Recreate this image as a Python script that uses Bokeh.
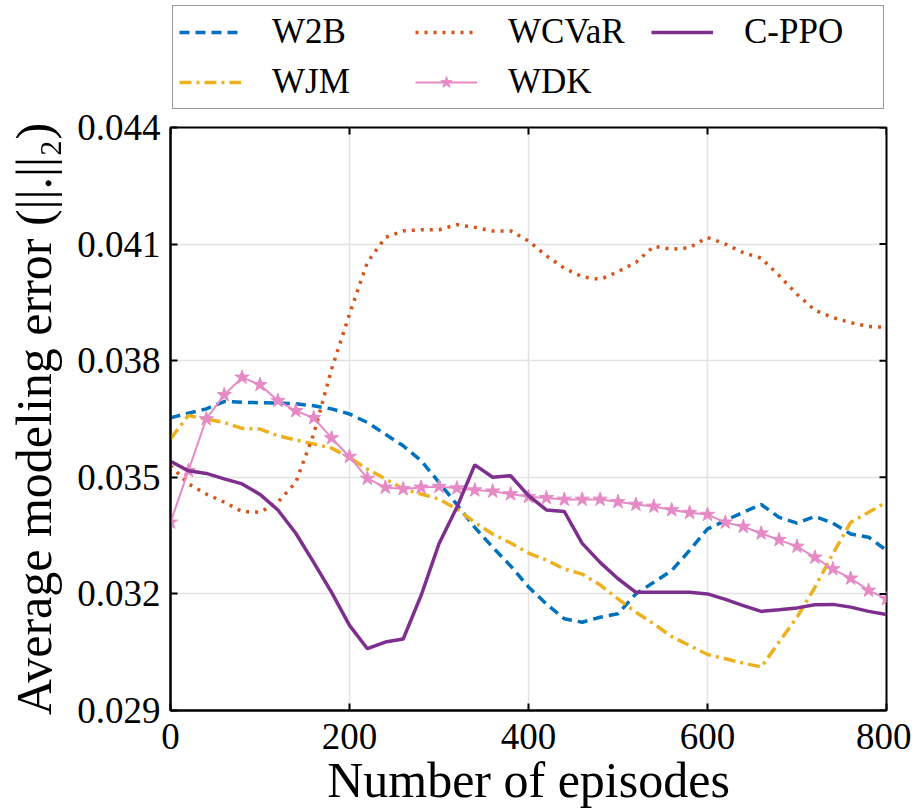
import math
from bokeh.plotting import figure
from bokeh.layouts import column
from bokeh.models import FixedTicker, Legend, LegendItem, Range1d
from bokeh.embed import file_html
from bokeh.resources import INLINE

episodes = list(range(0, 801, 20))

w2b = [0.03653, 0.03665, 0.03676, 0.03695, 0.03693, 0.03692, 0.03691, 0.03689, 0.03684, 0.03676,
       0.03663, 0.03641, 0.03611, 0.03581, 0.03543, 0.03487, 0.03430, 0.03371, 0.03320, 0.03272,
       0.03218, 0.03174, 0.03136, 0.03127, 0.03140, 0.03149, 0.03200, 0.03230, 0.03260, 0.03312,
       0.03367, 0.03389, 0.03410, 0.03430, 0.03397, 0.03382, 0.03399, 0.03382, 0.03354, 0.03346,
       0.03312]

wjm = [0.03599, 0.03659, 0.03650, 0.03641, 0.03626, 0.03624, 0.03607, 0.03596, 0.03586, 0.03575,
       0.03551, 0.03521, 0.03496, 0.03470, 0.03457, 0.03444, 0.03418, 0.03384, 0.03354, 0.03331,
       0.03305, 0.03287, 0.03264, 0.03251, 0.03223, 0.03187, 0.03153, 0.03123, 0.03090, 0.03067,
       0.03044, 0.03033, 0.03022, 0.03012, 0.03076, 0.03140, 0.03217, 0.03303, 0.03384, 0.03410,
       0.03436]

wcvar = [0.03530, 0.03483, 0.03457, 0.03436, 0.03412, 0.03410, 0.03436, 0.03487, 0.03611, 0.03778,
         0.03920, 0.04053, 0.04117, 0.04134, 0.04137, 0.04137, 0.04150, 0.04143, 0.04134, 0.04134,
         0.04108, 0.04070, 0.04038, 0.04016, 0.04009, 0.04029, 0.04053, 0.04094, 0.04087, 0.04091,
         0.04117, 0.04100, 0.04078, 0.04064, 0.04019, 0.03971, 0.03930, 0.03911, 0.03898, 0.03888,
         0.03886]

wdk = [0.03384, 0.03517, 0.03650, 0.03712, 0.03757, 0.03738, 0.03697, 0.03671, 0.03653, 0.03601,
       0.03553, 0.03497, 0.03474, 0.03470, 0.03474, 0.03476, 0.03472, 0.03467, 0.03464, 0.03457,
       0.03450, 0.03447, 0.03443, 0.03443, 0.03443, 0.03437, 0.03430, 0.03425, 0.03416, 0.03409,
       0.03404, 0.03384, 0.03373, 0.03356, 0.03339, 0.03322, 0.03294, 0.03264, 0.03240, 0.03209,
       0.03187]

cppo = [0.03541, 0.03517, 0.03510, 0.03496, 0.03483, 0.03456, 0.03416, 0.03356, 0.03281, 0.03204,
        0.03119, 0.03059, 0.03076, 0.03084, 0.03196, 0.03329, 0.03423, 0.03532, 0.03500, 0.03504,
        0.03453, 0.03416, 0.03412, 0.03330, 0.03281, 0.03239, 0.03204, 0.03204, 0.03204, 0.03204,
        0.03200, 0.03186, 0.03170, 0.03155, 0.03159, 0.03164, 0.03172, 0.03173, 0.03166, 0.03155,
        0.03147]

x_ticks = [0, 200, 400, 600, 800]
y_ticks = [0.029, 0.032, 0.035, 0.038, 0.041, 0.044]
y_tick_labels = ["0.029", "0.032", "0.035", "0.038", "0.041", "0.044"]
x_min, x_max = 0, 800
y_min, y_max = 0.029, 0.044

series = {"W2B": w2b, "WJM": wjm, "WCVaR": wcvar, "WDK": wdk, "C-PPO": cppo}

FONT = "Liberation Serif"
FRAME_W, FRAME_H = 716, 583
BORDER_L, BORDER_R = 170, 25

styles = {
    "W2B": dict(line_color="#0072BD", line_width=3.5, line_dash="10 6"),
    "WJM": dict(line_color="#EDB120", line_width=3.5, line_dash="12 5 3 5"),
    "WCVaR": dict(line_color="#D95319", line_width=3.5, line_dash="3 6"),
    "WDK": dict(line_color="#E68AC6", line_width=2),
    "C-PPO": dict(line_color="#7E2F8E", line_width=3.5),
}
star = dict(marker="star", size=15, fill_color="#E68AC6", line_color="#E68AC6")

# ---------------- main chart ----------------
p = figure(frame_width=FRAME_W, frame_height=FRAME_H, output_backend="svg", toolbar_location=None,
           x_range=Range1d(x_min, x_max), y_range=Range1d(y_min, y_max),
           min_border_left=BORDER_L, min_border_right=BORDER_R, min_border_top=18, min_border_bottom=0)
p.background_fill_color = "white"
p.border_fill_color = "white"
p.outline_line_color = "black"
p.outline_line_width = 2

for name in ["W2B", "WJM", "WCVaR", "WDK"]:
    p.line(episodes, series[name], **styles[name])
p.scatter(episodes, wdk, **star)
p.line(episodes, cppo, **styles["C-PPO"])

# inward ticks on the top and right edges (half of each dash is clipped by the frame)
p.scatter(x_ticks, [y_max] * len(x_ticks), marker="dash", size=14, angle=math.pi / 2,
          line_color="black", line_width=2)
p.scatter([x_max] * len(y_ticks), y_ticks, marker="dash", size=14,
          line_color="black", line_width=2)

xa = p.xaxis[0]
ya = p.yaxis[0]
xa.ticker = FixedTicker(ticks=x_ticks)
ya.ticker = FixedTicker(ticks=y_ticks)
ya.major_label_overrides = {t: s for t, s in zip(y_ticks, y_tick_labels)}
for ax in (xa, ya):
    ax.axis_line_color = "black"
    ax.axis_line_width = 2
    ax.major_tick_in = 7
    ax.major_tick_out = 0
    ax.major_tick_line_width = 2
    ax.major_tick_line_color = "black"
    ax.minor_tick_line_color = None
    ax.major_label_text_font = FONT
    ax.major_label_text_color = "black"
    ax.major_label_text_font_size = "37px"
    ax.axis_label_text_font = FONT
    ax.axis_label_text_font_style = "normal"
    ax.axis_label_text_color = "black"
    ax.axis_label_text_font_size = "50px"
xa.axis_label = "Number of episodes"
ya.axis_label = "Average modeling error (||.||\u2082)"
xa.major_label_standoff = 13
xa.axis_label_standoff = 0
ya.major_label_standoff = 10
ya.axis_label_standoff = 12

p.xgrid.ticker = FixedTicker(ticks=x_ticks)
p.ygrid.ticker = FixedTicker(ticks=y_ticks)
for g in (p.xgrid, p.ygrid):
    g.grid_line_color = "#e3e3e3"
    g.grid_line_width = 1.5

# ---------------- legend strip ----------------
# the legend's own renderers draw the same series, but on a y range that keeps them out of view
leg = figure(frame_width=FRAME_W, frame_height=106, output_backend="svg", toolbar_location=None,
             x_range=Range1d(x_min, x_max), y_range=Range1d(1, 2),
             x_axis_location=None, y_axis_location=None,
             min_border_left=BORDER_L - 2, min_border_right=BORDER_R, min_border_top=3, min_border_bottom=0)
leg.outline_line_color = None
leg.xgrid.visible = False
leg.ygrid.visible = False
leg.border_fill_color = "white"

lr = {name: leg.line(episodes, series[name], **styles[name]) for name in styles}
lr_star = leg.scatter(episodes, wdk, **star)

legend = Legend(items=[
    LegendItem(label="W2B", renderers=[lr["W2B"]]),
    LegendItem(label="WCVaR", renderers=[lr["WCVaR"]]),
    LegendItem(label="C-PPO", renderers=[lr["C-PPO"]]),
    LegendItem(label="WJM", renderers=[lr["WJM"]]),
    LegendItem(label="WDK", renderers=[lr["WDK"], lr_star]),
], orientation="horizontal", ncols=3)
legend.label_text_font = FONT
legend.label_text_font_size = "35px"
legend.label_text_color = "black"
legend.glyph_width = 62
legend.glyph_height = 30
legend.label_standoff = 31
legend.label_width = 133
legend.spacing = 10
legend.padding = 6
legend.margin = 2
legend.border_line_color = "#333333"
legend.border_line_width = 1.5
legend.background_fill_alpha = 1
legend.location = "top_left"
leg.add_layout(legend, "center")

layout = column(leg, p, spacing=0)
open("out.html", "w").write(file_html(layout, INLINE))
